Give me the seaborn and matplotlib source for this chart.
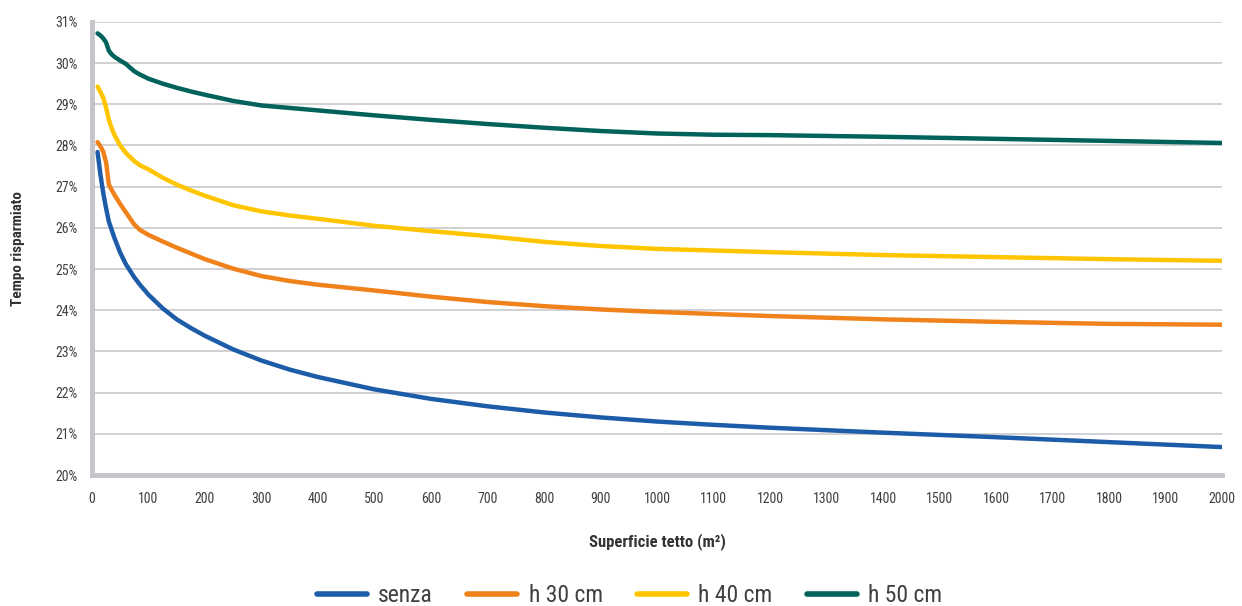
import matplotlib
matplotlib.use("Agg")
import matplotlib.pyplot as plt
from matplotlib import font_manager
from matplotlib.ticker import PercentFormatter
import seaborn as sns
import pandas as pd

# Roof surface (m²)
superficie = [10, 15, 20, 25, 30, 35, 40, 50, 60, 75, 85, 100, 125, 150, 175, 200, 250, 300,
              350, 400, 500, 600, 700, 800, 900, 1000, 1100, 1200, 1400, 1600, 1800, 2000]

# Time saved (%) for each configuration
senza = [27.84, 27.30, 26.85, 26.48, 26.15, 25.95, 25.75, 25.40, 25.12, 24.80, 24.62, 24.38,
         24.05, 23.78, 23.57, 23.38, 23.05, 22.78, 22.56, 22.38, 22.08, 21.85, 21.67, 21.52,
         21.40, 21.30, 21.22, 21.15, 21.03, 20.92, 20.80, 20.68]
h30 = [28.08, 27.98, 27.85, 27.60, 27.05, 26.92, 26.80, 26.58, 26.38, 26.08, 25.95, 25.83,
       25.67, 25.52, 25.38, 25.24, 25.01, 24.83, 24.71, 24.62, 24.48, 24.33, 24.20, 24.10,
       24.02, 23.96, 23.91, 23.86, 23.78, 23.72, 23.67, 23.65]
h40 = [29.43, 29.30, 29.16, 28.92, 28.62, 28.42, 28.25, 28.00, 27.82, 27.62, 27.52, 27.42,
       27.22, 27.05, 26.91, 26.78, 26.55, 26.40, 26.30, 26.22, 26.05, 25.92, 25.80, 25.66,
       25.56, 25.49, 25.45, 25.41, 25.34, 25.29, 25.24, 25.20]
h50 = [30.72, 30.67, 30.60, 30.50, 30.30, 30.21, 30.15, 30.06, 29.98, 29.80, 29.72, 29.62,
       29.50, 29.40, 29.31, 29.23, 29.08, 28.97, 28.91, 28.85, 28.73, 28.62, 28.52, 28.43,
       28.35, 28.29, 28.26, 28.25, 28.21, 28.16, 28.11, 28.06]

series_names = ["senza", "h 30 cm", "h 40 cm", "h 50 cm"]
series_colors = ["#1c5ca8", "#f0821c", "#ffc600", "#00625b"]
x_ticks = list(range(0, 2001, 100))
y_ticks = list(range(20, 32))

frames = []
for name, vals in zip(series_names, [senza, h30, h40, h50]):
    frames.append(pd.DataFrame({"superficie": superficie, "tempo": vals, "serie": name}))
df = pd.concat(frames, ignore_index=True)

sns.set_theme(style="white")
available = {f.name for f in font_manager.fontManager.ttflist}
family = next((f for f in ["Liberation Sans Narrow", "Roboto Condensed", "Liberation Sans"]
               if f in available), "DejaVu Sans")
plt.rcParams["font.family"] = [family, "DejaVu Sans"]

fig = plt.figure(figsize=(12.42, 6.06), dpi=100)
ax = fig.add_axes([0.074, 0.216, 0.910, 0.748])

sns.lineplot(data=df, x="superficie", y="tempo", hue="serie", hue_order=series_names,
             palette=series_colors, linewidth=3.2, ax=ax, legend=False,
             solid_capstyle="round", solid_joinstyle="round")

ax.set_xlim(0, 2000)
ax.set_ylim(20, 31)
ax.set_xticks(x_ticks)
ax.set_yticks(y_ticks)
ax.yaxis.set_major_formatter(PercentFormatter(decimals=0))
ax.tick_params(axis="both", length=0, labelsize=10, labelcolor="#404040")
ax.tick_params(axis="x", pad=12)
ax.tick_params(axis="y", pad=10)

ax.grid(axis="y", color="#c9c9cc", linewidth=1.2)
ax.grid(axis="x", visible=False)
ax.set_axisbelow(True)

for side in ["top", "right"]:
    ax.spines[side].set_visible(False)
for side in ["left", "bottom"]:
    ax.spines[side].set_color("#c4c4ca")
    ax.spines[side].set_linewidth(3.5)

ax.set_xlabel("Superficie tetto (m²)", fontsize=12, fontweight="bold", color="#333333",
              labelpad=20)
ax.set_ylabel("Tempo risparmiato", fontsize=11, fontweight="bold", color="#333333",
              labelpad=22)

handles = [plt.Line2D([0], [0], color=c, linewidth=4, solid_capstyle="round")
           for c in series_colors]
fig.legend(handles, series_names, loc="center", bbox_to_anchor=(0.507, 0.017),
           ncol=4, frameon=False, fontsize=17, handlelength=2.1, columnspacing=1.45,
           handletextpad=0.5, labelcolor="#404040", borderpad=0.1)

fig.savefig("out.png", dpi=100)
